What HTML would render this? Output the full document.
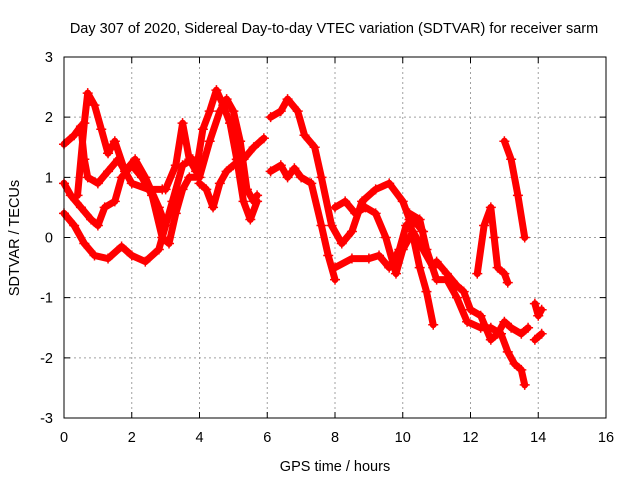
<!DOCTYPE html>
<html><head><meta charset="utf-8"><style>
body{margin:0;background:#fff;}
svg{display:block;font-family:"Liberation Sans",sans-serif;}
</style></head><body>
<svg id="chart" width="640" height="480" viewBox="0 0 640 480">
<rect width="640" height="480" fill="#fff"/>
<text x="334" y="33" font-size="14.5" text-anchor="middle">Day 307 of 2020, Sidereal Day-to-day VTEC variation (SDTVAR) for receiver sarm</text>
<text x="335" y="471" font-size="14.5" text-anchor="middle">GPS time / hours</text>
<text transform="translate(19,238) rotate(-90)" font-size="14.5" text-anchor="middle">SDTVAR / TECUs</text>
<g id="grid"></g>
<g id="ticks"></g>
<g id="series"></g>
<rect x="64" y="57" width="542" height="361" fill="none" stroke="#000" stroke-width="1"/>
</svg>
<script>
const xTicks=[0,2,4,6,8,10,12,14,16];
const yTicks=[-3,-2,-1,0,1,2,3];
const s1=[[0,1.55],[0.3,1.7],[0.5,1.85],[0.6,1.3],[0.7,1.0],[1.0,0.9],[1.3,1.1],[1.6,1.3],[2.0,0.9],[2.5,0.8],[2.9,0.8]];
const s2=[[0.4,0.7],[0.6,1.9],[0.7,2.4],[0.9,2.2],[1.1,1.8],[1.3,1.4],[1.5,1.6],[1.8,1.1],[2.1,1.3],[2.4,1.0],[2.8,0.5],[3.0,0.2]];
const s3=[[0,0.4],[0.3,0.2],[0.6,-0.1],[0.9,-0.3],[1.3,-0.35],[1.7,-0.15],[2.0,-0.3],[2.4,-0.4],[2.8,-0.2],[3.0,0.2],[3.2,0.6],[3.5,1.2],[3.8,1.3]];
const s4=[[0,0.9],[0.2,0.7],[0.5,0.5],[0.8,0.3],[1.0,0.2],[1.2,0.5],[1.5,0.6],[1.7,1.0],[2.0,1.2],[2.3,1.0],[2.6,0.7],[2.9,0.0],[3.1,-0.1],[3.3,0.4],[3.5,0.8],[3.7,1.0],[4.0,1.0],[4.3,1.6],[4.6,2.1],[4.8,2.3],[5.0,2.1],[5.2,1.6],[5.4,0.8],[5.6,0.6],[5.7,0.7]];
const s5=[[3.0,0.8],[3.3,1.2],[3.5,1.9],[3.7,1.3],[3.9,1.1],[4.1,1.8],[4.3,2.1],[4.5,2.45],[4.7,2.2],[4.9,1.9],[5.1,1.3],[5.3,0.6],[5.5,0.3],[5.7,0.6]];
const s6=[[4.0,0.9],[4.2,0.8],[4.4,0.5],[4.6,0.9],[4.8,1.1],[5.0,1.2],[5.3,1.3],[5.6,1.5],[5.9,1.65]];
const s7=[[6.1,2.0],[6.4,2.1],[6.6,2.3],[6.9,2.1],[7.1,1.7],[7.4,1.5],[7.6,1.0],[7.9,0.2],[8.2,-0.1],[8.5,0.1],[8.8,0.6],[9.2,0.8],[9.6,0.9],[10.0,0.6],[10.2,0.3],[10.5,-0.5],[10.7,-0.9],[10.9,-1.45]];
const s8=[[6.1,1.1],[6.4,1.2],[6.6,1.0],[6.8,1.15],[7.0,1.0],[7.3,0.9],[7.6,0.2],[7.8,-0.3],[8.0,-0.7]];
const s9=[[8.0,-0.5],[8.5,-0.35],[9.0,-0.35],[9.3,-0.3],[9.6,-0.5],[9.9,-0.2],[10.1,0.2],[10.3,0.3],[10.6,0.1]];
const s10=[[8.0,0.5],[8.3,0.6],[8.6,0.4],[8.9,0.5],[9.2,0.4],[9.5,0.0],[9.8,-0.6],[10.0,-0.2],[10.3,0.1],[10.6,-0.2],[10.9,-0.5]];
const s11=[[10.2,0.4],[10.5,0.3],[10.7,-0.2],[11.0,-0.7],[11.3,-0.7],[11.6,-1.0],[11.9,-1.4],[12.3,-1.5],[12.6,-1.5],[12.9,-1.6],[13.1,-1.9],[13.3,-2.1],[13.5,-2.2],[13.6,-2.45]];
const s12=[[11.0,-0.4],[11.3,-0.6],[11.6,-0.8],[11.8,-0.9],[12.0,-1.2],[12.3,-1.3],[12.6,-1.7],[12.8,-1.6],[13.0,-1.4],[13.2,-1.5],[13.5,-1.6],[13.7,-1.5]];
const s13=[[12.2,-0.6],[12.4,0.2],[12.6,0.5],[12.7,0.0],[12.8,-0.5],[13.0,-0.6],[13.1,-0.75]];
const s14=[[13.0,1.6],[13.2,1.3],[13.4,0.7],[13.6,0.0]];
const s15=[[13.9,-1.1],[14.0,-1.3],[14.1,-1.2]];
const s16=[[13.9,-1.7],[14.1,-1.6]];
const allSeries=[s1,s2,s3,s4,s5,s6,s7,s8,s9,s10,s11,s12,s13,s14,s15,s16];

const X0=64,X1=606,Y0=418,Y1=57;
const xs=t=>X0+(t-0)/(16-0)*(X1-X0);
const ys=v=>Y0-(v+3)/6*(Y0-Y1);
const NS="http://www.w3.org/2000/svg";
function mk(tag,attrs,parent){const e=document.createElementNS(NS,tag);for(const k in attrs)e.setAttribute(k,attrs[k]);parent.appendChild(e);return e;}
const grid=document.getElementById('grid'),ticks=document.getElementById('ticks'),ser=document.getElementById('series');
xTicks.forEach(t=>{const x=xs(t);
 if(t>0&&t<16){const g=mk('line',{x1:x,x2:x,y1:Y1,y2:Y0,stroke:'#a0a0a0','stroke-dasharray':'2,3'},grid);
 
 }
 const tk=mk('path',{d:`M${x},${Y0}v-6M${x},${Y1}v6`,stroke:'#000'},ticks);
 
 
 const lb=mk('text',{x:x,y:Y0+24,'font-size':'14.5','text-anchor':'middle'},ticks);lb.textContent=t;
 
 
});
yTicks.forEach(v=>{const y=ys(v);
 if(v>-3&&v<3){const g=mk('line',{x1:X0,x2:X1,y1:y,y2:y,stroke:'#a0a0a0','stroke-dasharray':'2,3'},grid);
 
 }
 const tk=mk('path',{d:`M${X0},${y}h6M${X1},${y}h-6`,stroke:'#000'},ticks);
 
 
 const lb=mk('text',{x:X0-11,y:y+5,'font-size':'14.5','text-anchor':'end'},ticks);lb.textContent=v;
 
 
});
allSeries.forEach((s,i)=>{
 const g=mk('g',{},ser);
 
 
 const pts=s.map(p=>xs(p[0]).toFixed(1)+','+ys(p[1]).toFixed(1)).join(' ');
 mk('polyline',{points:pts,fill:'none',stroke:'#ff0000','stroke-width':'7','stroke-linejoin':'round','stroke-linecap':'round'},g);
 let d='';
 s.forEach(p=>{const x=xs(p[0]),y=ys(p[1]);d+=`M${x-5},${y}h10M${x},${y-5}v10`;});
 mk('path',{d:d,stroke:'#ff0000','stroke-width':'1.5'},g);
});
</script>
</body></html>
